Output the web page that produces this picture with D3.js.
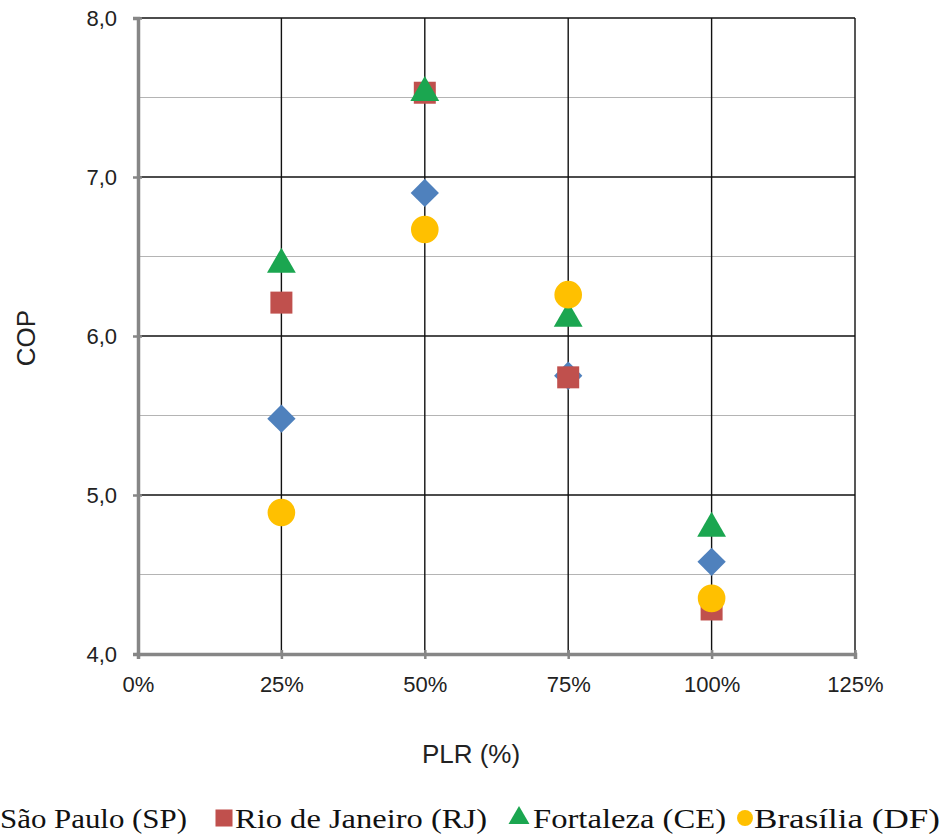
<!DOCTYPE html>
<html><head><meta charset="utf-8">
<script src="https://cdn.jsdelivr.net/npm/d3@7"></script>
<style>body{margin:0;background:#fff}svg{display:block}</style>
</head><body>
<svg id="c" width="944" height="838"></svg>
<script>
const plr = [0.25, 0.50, 0.75, 1.00];
const sp = [5.48, 6.90, 5.75, 4.58];
const rj = [6.21, 7.53, 5.74, 4.28];
const ce = [6.45, 7.53, 6.11, 4.79];
const df = [4.89, 6.67, 6.26, 4.35];
const seriesNames = ["São Paulo (SP)", "Rio de Janeiro (RJ)", "Fortaleza (CE)", "Brasília (DF)"];
const xTicks = [0, 0.25, 0.5, 0.75, 1.0, 1.25];
const yMajor = [4, 5, 6, 7, 8];
const yMinor = [4.5, 5.5, 6.5, 7.5];

const svg = d3.select("#c");
const x = d3.scaleLinear().domain([0, 1.25]).range([138, 855]);
const y = d3.scaleLinear().domain([4, 8]).range([654, 18]);

const series = [
  {name: seriesNames[0], vals: sp, color: "#4F81BD", sym: d3.symbolSquare, size: 400, rot: 45, lsize: 180},
  {name: seriesNames[1], vals: rj, color: "#C0504D", sym: d3.symbolSquare, size: 484, rot: 0, lsize: 290},
  {name: seriesNames[2], vals: ce, color: "#1BA650", sym: d3.symbolTriangle, size: 360, rot: 0, lsize: 190},
  {name: seriesNames[3], vals: df, color: "#FFC000", sym: d3.symbolCircle, size: 600, rot: 0, lsize: 200}
];

const sans = "'Liberation Sans', Arial, sans-serif";
const serif = "'Liberation Serif', 'Times New Roman', serif";

// grid
svg.append("g").selectAll("line").data(yMinor).join("line")
  .attr("x1", x(0)).attr("x2", x(1.25)).attr("y1", d => y(d)).attr("y2", d => y(d))
  .attr("stroke", "#b4b4b4").attr("stroke-width", 1.2);
svg.append("g").selectAll("line").data(yMajor.slice(1)).join("line")
  .attr("x1", x(0)).attr("x2", x(1.25)).attr("y1", d => y(d)).attr("y2", d => y(d))
  .attr("stroke", "#111").attr("stroke-width", 1.4);
svg.append("g").selectAll("line").data(xTicks.slice(1)).join("line")
  .attr("x1", d => x(d)).attr("x2", d => x(d)).attr("y1", y(4)).attr("y2", y(8))
  .attr("stroke", "#111").attr("stroke-width", 1.4);

// axes
const fmtY = d => d3.format(".1f")(d).replace(".", ",");
const yAxis = svg.append("g").attr("transform", `translate(${x(0)},0)`)
  .call(d3.axisLeft(y).tickValues(yMajor).tickFormat(fmtY).tickSize(5).tickPadding(16));
const xAxis = svg.append("g").attr("transform", `translate(0,${y(4)})`)
  .call(d3.axisBottom(x).tickValues(xTicks).tickFormat(d3.format(".0%")).tickSize(5).tickPadding(17));
[yAxis, xAxis].forEach(a => {
  a.select(".domain").attr("stroke", "#868686").attr("stroke-width", 3.5);
  a.selectAll(".tick line").attr("stroke", "#868686").attr("stroke-width", 2.5);
  a.selectAll("text").attr("font-family", sans).attr("font-size", 22).attr("fill", "#222");
});
xAxis.selectAll(".tick line").attr("y1", -4);
yAxis.selectAll(".tick line").attr("x1", 4);

// axis titles
svg.append("text").attr("x", 471).attr("y", 763).attr("text-anchor", "middle")
  .attr("font-family", sans).attr("font-size", 26).attr("fill", "#222")
  .text("PLR (%)");
svg.append("text").attr("transform", "translate(35,338) rotate(-90)").attr("text-anchor", "middle")
  .attr("font-family", sans).attr("font-size", 26).attr("fill", "#222")
  .text("COP");

// markers
series.forEach(s => {
  svg.append("g").selectAll("path").data(s.vals.map((v, i) => [plr[i], v])).join("path")
    .attr("transform", d => `translate(${x(d[0])},${y(d[1])}) rotate(${s.rot})`)
    .attr("d", d3.symbol().type(s.sym).size(s.size))
    .attr("fill", s.color);
});

// legend
const legMarkX = [-12, 224, 519, 745];
const legTextX = [0, 235, 533, 754];
const legTextW = [187, 252, 193, 186];
const leg = svg.append("g");
series.forEach((s, i) => {
  leg.append("path").attr("transform", `translate(${legMarkX[i]},818) rotate(${s.rot})`)
    .attr("d", d3.symbol().type(s.sym).size(s.lsize)).attr("fill", s.color);
  leg.append("text").attr("x", legTextX[i]).attr("y", 828)
    .attr("font-family", serif).attr("font-size", 28).attr("fill", "#111")
    .attr("textLength", legTextW[i]).attr("lengthAdjust", "spacingAndGlyphs")
    .text(s.name);
});
</script>
</body></html>
